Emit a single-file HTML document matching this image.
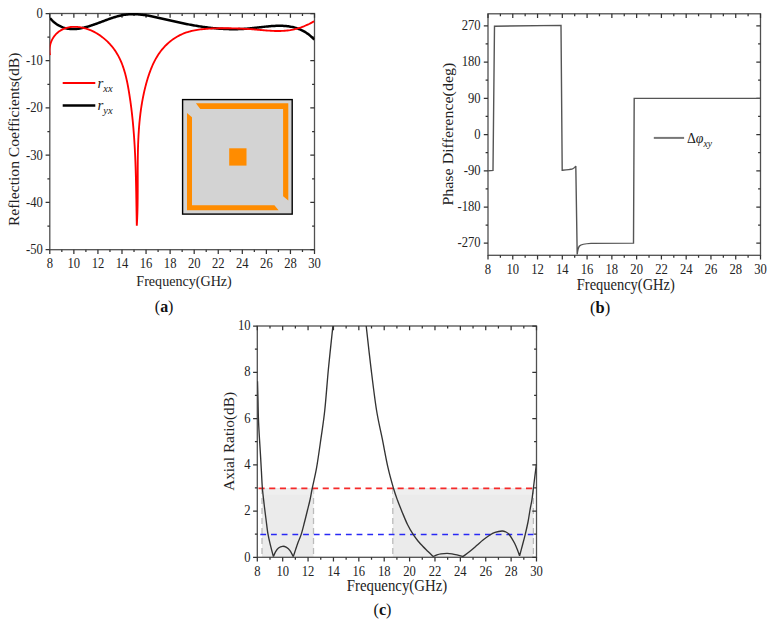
<!DOCTYPE html>
<html><head><meta charset="utf-8"><title>Figure</title>
<style>html,body{margin:0;padding:0;background:#fff;width:773px;height:624px;overflow:hidden;position:relative}
text{font-family:"Liberation Serif",serif}</style></head>
<body>
<svg width="773" height="624" viewBox="0 0 773 624" style="position:absolute;left:0;top:0">
<rect width="773" height="624" fill="#fff"/>
<rect x="49.80" y="13.50" width="264.70" height="236.20" fill="none" stroke="#505050" stroke-width="1.30"/>
<path d="M49.80,249.70v4.20 M49.80,13.50v4.20 M61.83,249.70v2.40 M61.83,13.50v2.40 M73.86,249.70v4.20 M73.86,13.50v4.20 M85.90,249.70v2.40 M85.90,13.50v2.40 M97.93,249.70v4.20 M97.93,13.50v4.20 M109.96,249.70v2.40 M109.96,13.50v2.40 M121.99,249.70v4.20 M121.99,13.50v4.20 M134.02,249.70v2.40 M134.02,13.50v2.40 M146.05,249.70v4.20 M146.05,13.50v4.20 M158.09,249.70v2.40 M158.09,13.50v2.40 M170.12,249.70v4.20 M170.12,13.50v4.20 M182.15,249.70v2.40 M182.15,13.50v2.40 M194.18,249.70v4.20 M194.18,13.50v4.20 M206.21,249.70v2.40 M206.21,13.50v2.40 M218.25,249.70v4.20 M218.25,13.50v4.20 M230.28,249.70v2.40 M230.28,13.50v2.40 M242.31,249.70v4.20 M242.31,13.50v4.20 M254.34,249.70v2.40 M254.34,13.50v2.40 M266.37,249.70v4.20 M266.37,13.50v4.20 M278.40,249.70v2.40 M278.40,13.50v2.40 M290.44,249.70v4.20 M290.44,13.50v4.20 M302.47,249.70v2.40 M302.47,13.50v2.40 M314.50,249.70v4.20 M314.50,13.50v4.20 M49.80,13.50h-4.20 M314.50,13.50h-4.20 M49.80,37.12h-2.40 M314.50,37.12h-2.40 M49.80,60.74h-4.20 M314.50,60.74h-4.20 M49.80,84.36h-2.40 M314.50,84.36h-2.40 M49.80,107.98h-4.20 M314.50,107.98h-4.20 M49.80,131.60h-2.40 M314.50,131.60h-2.40 M49.80,155.22h-4.20 M314.50,155.22h-4.20 M49.80,178.84h-2.40 M314.50,178.84h-2.40 M49.80,202.46h-4.20 M314.50,202.46h-4.20 M49.80,226.08h-2.40 M314.50,226.08h-2.40 M49.80,249.70h-4.20 M314.50,249.70h-4.20" stroke="#333" stroke-width="1.25" fill="none"/>
<g style="font-family:'Liberation Serif',serif;" fill="#222"><text transform="translate(42.80,17.80) scale(0.900,1)" text-anchor="end" style="font-size:14.00px" fill="#222">0</text><text transform="translate(42.80,65.04) scale(0.900,1)" text-anchor="end" style="font-size:14.00px" fill="#222">-10</text><text transform="translate(42.80,112.28) scale(0.900,1)" text-anchor="end" style="font-size:14.00px" fill="#222">-20</text><text transform="translate(42.80,159.52) scale(0.900,1)" text-anchor="end" style="font-size:14.00px" fill="#222">-30</text><text transform="translate(42.80,206.76) scale(0.900,1)" text-anchor="end" style="font-size:14.00px" fill="#222">-40</text><text transform="translate(42.80,254.00) scale(0.900,1)" text-anchor="end" style="font-size:14.00px" fill="#222">-50</text><text transform="translate(49.80,267.80) scale(0.900,1)" text-anchor="middle" style="font-size:14.00px" fill="#222">8</text><text transform="translate(73.86,267.80) scale(0.900,1)" text-anchor="middle" style="font-size:14.00px" fill="#222">10</text><text transform="translate(97.93,267.80) scale(0.900,1)" text-anchor="middle" style="font-size:14.00px" fill="#222">12</text><text transform="translate(121.99,267.80) scale(0.900,1)" text-anchor="middle" style="font-size:14.00px" fill="#222">14</text><text transform="translate(146.05,267.80) scale(0.900,1)" text-anchor="middle" style="font-size:14.00px" fill="#222">16</text><text transform="translate(170.12,267.80) scale(0.900,1)" text-anchor="middle" style="font-size:14.00px" fill="#222">18</text><text transform="translate(194.18,267.80) scale(0.900,1)" text-anchor="middle" style="font-size:14.00px" fill="#222">20</text><text transform="translate(218.25,267.80) scale(0.900,1)" text-anchor="middle" style="font-size:14.00px" fill="#222">22</text><text transform="translate(242.31,267.80) scale(0.900,1)" text-anchor="middle" style="font-size:14.00px" fill="#222">24</text><text transform="translate(266.37,267.80) scale(0.900,1)" text-anchor="middle" style="font-size:14.00px" fill="#222">26</text><text transform="translate(290.44,267.80) scale(0.900,1)" text-anchor="middle" style="font-size:14.00px" fill="#222">28</text><text transform="translate(314.50,267.80) scale(0.900,1)" text-anchor="middle" style="font-size:14.00px" fill="#222">30</text></g>
<text x="136.3" y="285.5" textLength="95.5" lengthAdjust="spacingAndGlyphs" style="font-family:'Liberation Serif',serif;font-size:15.6px" fill="#222">Frequency(GHz)</text>
<text transform="translate(18.9,226.1) rotate(-90)" x="0" y="0" textLength="173.6" lengthAdjust="spacingAndGlyphs" style="font-family:'Liberation Serif',serif;font-size:14.2px" fill="#222">Reflection Coefficients(dB)</text>
<text transform="translate(154.8,312.2) scale(0.93,1)" style="font-family:'Liberation Serif',serif;font-size:17.2px" fill="#111">(<tspan font-weight="bold">a</tspan>)</text>
<rect x="182.6" y="99.6" width="109.6" height="114.5" fill="#d3d3d3" stroke="#000" stroke-width="1.4"/>
<path d="M195.9,103.3 L288.3,103.3 L288.3,200.5 L283.1,196.3 L283.1,108.9 L200.3,108.9 Z" fill="#ff8c00"/>
<path d="M187,112.9 L192,117.3 L192,205.3 L274.4,205.3 L278.6,210.2 L187,210.2 Z" fill="#ff8c00"/>
<rect x="229.2" y="148.3" width="17.3" height="17.3" fill="#ff8c00"/>
<path d="M62.7,83h32.6" stroke="#f00" stroke-width="2.0"/>
<path d="M62.7,105.5h32.6" stroke="#000" stroke-width="2.4"/>
<text x="97.5" y="87.8" style="font-family:'Liberation Serif',serif;font-size:15px;font-style:italic" fill="#222">r<tspan dy="4" style="font-size:10.5px">xx</tspan></text>
<text x="97.5" y="110.3" style="font-family:'Liberation Serif',serif;font-size:15px;font-style:italic" fill="#222">r<tspan dy="4" style="font-size:10.5px">yx</tspan></text>
<defs><clipPath id="ca"><rect x="49.80" y="10.50" width="264.70" height="239.20"/></clipPath></defs>
<g clip-path="url(#ca)" fill="none" stroke-linejoin="round">
<path d="M50.00,18.20 L50.93,19.23 L51.88,20.20 L52.83,21.11 L53.79,21.97 L54.76,22.77 L55.74,23.52 L56.72,24.21 L57.71,24.85 L58.71,25.44 L59.71,25.98 L60.72,26.47 L61.74,26.91 L62.76,27.31 L63.79,27.67 L64.82,27.98 L65.86,28.25 L66.91,28.47 L67.96,28.66 L69.01,28.81 L70.07,28.92 L71.13,29.00 L72.20,29.04 L73.27,29.05 L74.35,29.03 L75.43,28.97 L76.51,28.89 L77.60,28.78 L78.69,28.64 L79.78,28.47 L80.88,28.28 L81.97,28.07 L83.07,27.83 L84.17,27.58 L85.28,27.30 L86.38,27.01 L87.49,26.70 L88.60,26.37 L89.70,26.03 L90.81,25.67 L91.92,25.30 L93.03,24.93 L94.14,24.54 L95.26,24.14 L96.37,23.74 L97.48,23.33 L98.59,22.91 L99.71,22.49 L100.82,22.07 L101.93,21.65 L103.05,21.23 L104.16,20.81 L105.28,20.39 L106.40,19.98 L107.51,19.57 L108.63,19.16 L109.75,18.77 L110.86,18.38 L111.98,18.00 L113.10,17.64 L114.22,17.28 L115.34,16.94 L116.46,16.61 L117.58,16.30 L118.70,16.01 L119.82,15.74 L120.94,15.48 L122.06,15.25 L123.18,15.04 L124.30,14.85 L125.42,14.68 L126.54,14.54 L127.67,14.43 L128.79,14.33 L129.91,14.26 L131.03,14.21 L132.16,14.19 L133.28,14.18 L134.40,14.19 L135.53,14.22 L136.65,14.27 L137.77,14.34 L138.90,14.42 L140.02,14.52 L141.15,14.64 L142.27,14.76 L143.40,14.91 L144.52,15.06 L145.65,15.23 L146.77,15.41 L147.90,15.60 L149.02,15.80 L150.15,16.01 L151.28,16.23 L152.40,16.46 L153.53,16.69 L154.65,16.93 L155.78,17.18 L156.91,17.43 L158.03,17.68 L159.16,17.94 L160.28,18.20 L161.41,18.46 L162.54,18.73 L163.66,18.99 L164.79,19.26 L165.92,19.52 L167.04,19.79 L168.17,20.05 L169.29,20.31 L170.42,20.57 L171.55,20.82 L172.67,21.08 L173.80,21.33 L174.93,21.58 L176.05,21.83 L177.18,22.08 L178.31,22.32 L179.43,22.56 L180.56,22.80 L181.69,23.04 L182.82,23.27 L183.94,23.50 L185.07,23.73 L186.20,23.95 L187.33,24.18 L188.46,24.39 L189.59,24.61 L190.72,24.82 L191.85,25.03 L192.98,25.23 L194.11,25.43 L195.24,25.63 L196.38,25.82 L197.51,26.00 L198.64,26.19 L199.78,26.37 L200.91,26.54 L202.04,26.71 L203.18,26.88 L204.32,27.04 L205.45,27.19 L206.59,27.34 L207.73,27.49 L208.86,27.63 L210.00,27.76 L211.14,27.89 L212.28,28.02 L213.42,28.13 L214.57,28.25 L215.71,28.35 L216.85,28.45 L218.00,28.55 L219.14,28.64 L220.29,28.72 L221.43,28.79 L222.58,28.86 L223.73,28.93 L224.88,28.98 L226.03,29.03 L227.18,29.07 L228.33,29.11 L229.48,29.14 L230.64,29.16 L231.79,29.17 L232.95,29.18 L234.10,29.18 L235.26,29.17 L236.42,29.15 L237.58,29.13 L238.74,29.09 L239.90,29.05 L241.07,29.00 L242.23,28.95 L243.40,28.88 L244.56,28.81 L245.73,28.72 L246.90,28.63 L248.07,28.53 L249.24,28.43 L250.41,28.31 L251.59,28.20 L252.76,28.07 L253.93,27.95 L255.11,27.81 L256.28,27.68 L257.45,27.55 L258.62,27.41 L259.79,27.28 L260.96,27.14 L262.13,27.01 L263.30,26.88 L264.47,26.76 L265.63,26.63 L266.79,26.52 L267.96,26.40 L269.11,26.30 L270.27,26.20 L271.42,26.11 L272.58,26.03 L273.72,25.96 L274.87,25.91 L276.01,25.86 L277.15,25.82 L278.28,25.80 L279.41,25.79 L280.54,25.80 L281.66,25.82 L282.78,25.86 L283.90,25.92 L285.01,25.99 L286.11,26.08 L287.21,26.20 L288.30,26.33 L289.39,26.49 L290.47,26.66 L291.55,26.86 L292.62,27.09 L293.69,27.34 L294.75,27.61 L295.80,27.91 L296.84,28.24 L297.88,28.59 L298.91,28.98 L299.94,29.39 L300.95,29.84 L301.96,30.31 L302.96,30.82 L303.96,31.36 L304.94,31.93 L305.92,32.54 L306.89,33.18 L307.85,33.86 L308.80,34.58 L309.74,35.33 L310.67,36.13 L311.59,36.96 L312.51,37.83 L313.41,38.75 L314.30,39.70" stroke="#000" stroke-width="2.5"/>
<path d="M50.00,55.10 L49.80,53.79 L49.67,52.50 L49.60,51.22 L49.59,49.97 L49.64,48.75 L49.75,47.54 L49.92,46.36 L50.14,45.21 L50.41,44.08 L50.74,42.98 L51.11,41.91 L51.54,40.87 L52.01,39.86 L52.52,38.88 L53.08,37.93 L53.68,37.01 L54.32,36.13 L55.00,35.28 L55.72,34.47 L56.47,33.70 L57.25,32.96 L58.07,32.26 L58.91,31.60 L59.79,30.99 L60.69,30.41 L61.62,29.87 L62.57,29.38 L63.54,28.93 L64.54,28.53 L65.55,28.17 L66.58,27.86 L67.63,27.59 L68.69,27.36 L69.76,27.18 L70.84,27.03 L71.94,26.93 L73.04,26.86 L74.14,26.83 L75.25,26.84 L76.37,26.88 L77.48,26.95 L78.59,27.06 L79.70,27.20 L80.81,27.38 L81.91,27.58 L83.01,27.81 L84.10,28.07 L85.19,28.36 L86.27,28.68 L87.34,29.03 L88.41,29.40 L89.47,29.80 L90.52,30.23 L91.56,30.68 L92.59,31.15 L93.62,31.65 L94.63,32.18 L95.64,32.73 L96.63,33.30 L97.61,33.89 L98.58,34.50 L99.54,35.13 L100.49,35.79 L101.42,36.46 L102.34,37.16 L103.25,37.87 L104.14,38.60 L105.02,39.34 L105.89,40.11 L106.73,40.89 L107.57,41.69 L108.38,42.50 L109.18,43.32 L109.96,44.16 L110.73,45.02 L111.48,45.89 L112.20,46.77 L112.91,47.66 L113.60,48.56 L114.27,49.47 L114.92,50.40 L115.55,51.33 L116.16,52.27 L116.75,53.23 L117.33,54.19 L117.88,55.16 L118.42,56.14 L118.94,57.12 L119.44,58.12 L119.92,59.12 L120.39,60.14 L120.85,61.15 L121.28,62.18 L121.71,63.21 L122.12,64.25 L122.51,65.30 L122.89,66.35 L123.26,67.40 L123.62,68.47 L123.96,69.53 L124.29,70.61 L124.61,71.69 L124.92,72.77 L125.22,73.86 L125.51,74.95 L125.78,76.04 L126.05,77.14 L126.31,78.24 L126.56,79.35 L126.81,80.45 L127.05,81.56 L127.27,82.68 L127.50,83.79 L127.71,84.91 L127.92,86.03 L128.13,87.14 L128.33,88.27 L128.52,89.39 L128.72,90.51 L128.90,91.63 L129.09,92.75 L129.27,93.87 L129.45,95.00 L129.62,96.12 L129.79,97.24 L129.96,98.36 L130.13,99.49 L130.29,100.61 L130.45,101.73 L130.60,102.86 L130.76,103.98 L130.91,105.10 L131.05,106.22 L131.20,107.35 L131.34,108.47 L131.48,109.59 L131.61,110.72 L131.75,111.84 L131.88,112.96 L132.01,114.09 L132.13,115.21 L132.25,116.34 L132.37,117.46 L132.49,118.58 L132.61,119.71 L132.72,120.83 L132.83,121.96 L132.94,123.08 L133.04,124.20 L133.14,125.33 L133.24,126.45 L133.34,127.58 L133.44,128.70 L133.53,129.83 L133.62,130.95 L133.71,132.08 L133.80,133.20 L133.89,134.33 L133.97,135.45 L134.05,136.58 L134.13,137.70 L134.21,138.83 L134.28,139.96 L134.35,141.08 L134.43,142.21 L134.49,143.33 L134.56,144.46 L134.63,145.59 L134.69,146.71 L134.76,147.84 L134.82,148.96 L134.88,150.09 L134.93,151.22 L134.99,152.34 L135.04,153.47 L135.10,154.60 L135.15,155.72 L135.20,156.85 L135.25,157.98 L135.29,159.11 L135.34,160.23 L135.38,161.36 L135.43,162.49 L135.47,163.62 L135.51,164.74 L135.55,165.87 L135.59,167.00 L135.63,168.13 L135.66,169.26 L135.70,170.38 L135.73,171.51 L135.76,172.64 L135.80,173.77 L135.83,174.90 L135.86,176.03 L135.89,177.16 L135.92,178.28 L135.94,179.41 L135.97,180.54 L136.00,181.67 L136.02,182.80 L136.05,183.93 L136.07,185.06 L136.10,186.19 L136.12,187.32 L136.14,188.45 L136.16,189.58 L136.19,190.71 L136.21,191.84 L136.23,192.97 L136.25,194.10 L136.27,195.23 L136.29,196.36 L136.31,197.49 L136.33,198.62 L136.35,199.76 L136.37,200.89 L136.38,202.02 L136.40,203.15 L136.42,204.28 L136.44,205.41 L136.46,206.54 L136.48,207.68 L136.50,208.81 L136.51,209.94 L136.53,211.07 L136.55,212.20 L136.57,213.34 L136.59,214.47 L136.61,215.60 L136.63,216.73 L136.65,217.87 L136.67,219.00 L136.69,220.13 L136.71,221.27 L136.73,222.40 L136.75,223.53 L136.78,224.67 L136.80,225.80 M136.80,225.80 L136.88,224.39 L136.96,222.99 L137.03,221.58 L137.10,220.17 L137.17,218.76 L137.22,217.35 L137.28,215.93 L137.33,214.52 L137.38,213.10 L137.42,211.68 L137.46,210.26 L137.49,208.85 L137.53,207.42 L137.55,206.00 L137.58,204.58 L137.60,203.16 L137.62,201.73 L137.64,200.30 L137.66,198.88 L137.67,197.45 L137.68,196.02 L137.69,194.59 L137.70,193.16 L137.71,191.73 L137.71,190.30 L137.71,188.87 L137.72,187.44 L137.72,186.00 L137.72,184.57 L137.72,183.13 L137.72,181.70 L137.72,180.26 L137.72,178.83 L137.72,177.39 L137.72,175.96 L137.72,174.52 L137.72,173.08 L137.72,171.65 L137.72,170.21 L137.73,168.77 L137.73,167.33 L137.74,165.90 L137.75,164.46 L137.76,163.02 L137.77,161.58 L137.78,160.15 L137.80,158.71 L137.82,157.27 L137.84,155.84 L137.86,154.40 L137.89,152.96 L137.92,151.53 L137.95,150.09 L137.99,148.65 L138.03,147.22 L138.08,145.78 L138.12,144.35 L138.17,142.92 L138.23,141.48 L138.29,140.05 L138.36,138.62 L138.43,137.19 L138.50,135.75 L138.58,134.32 L138.67,132.89 L138.76,131.47 L138.85,130.04 L138.95,128.61 L139.06,127.19 L139.17,125.76 L139.29,124.34 L139.42,122.91 L139.55,121.49 L139.69,120.07 L139.84,118.65 L139.99,117.23 L140.15,115.81 L140.32,114.39 L140.50,112.98 L140.68,111.57 L140.87,110.15 L141.07,108.74 L141.28,107.33 L141.49,105.92 L141.72,104.51 L141.95,103.11 L142.19,101.70 L142.44,100.30 L142.70,98.90 L142.97,97.50 L143.25,96.10 L143.54,94.71 L143.84,93.31 L144.14,91.92 L144.46,90.53 L144.79,89.14 L145.13,87.75 L145.48,86.37 L145.84,84.98 L146.21,83.60 L146.60,82.22 L146.99,80.85 L147.40,79.47 L147.81,78.10 L148.24,76.73 L148.69,75.37 L149.15,74.01 L149.62,72.65 L150.11,71.31 L150.61,69.97 L151.14,68.64 L151.68,67.31 L152.24,66.00 L152.81,64.70 L153.41,63.41 L154.03,62.13 L154.67,60.87 L155.33,59.62 L156.01,58.38 L156.72,57.16 L157.45,55.96 L158.21,54.77 L158.99,53.60 L159.80,52.45 L160.64,51.32 L161.50,50.21 L162.39,49.12 L163.31,48.05 L164.25,47.00 L165.22,45.98 L166.21,44.98 L167.23,44.01 L168.27,43.06 L169.34,42.14 L170.42,41.25 L171.53,40.38 L172.66,39.54 L173.82,38.74 L174.99,37.96 L176.18,37.22 L177.40,36.50 L178.63,35.82 L179.88,35.18 L181.14,34.57 L182.43,33.99 L183.73,33.45 L185.04,32.95 L186.37,32.48 L187.72,32.05 L189.08,31.64 L190.45,31.27 L191.83,30.93 L193.22,30.62 L194.62,30.33 L196.04,30.07 L197.45,29.84 L198.88,29.62 L200.31,29.43 L201.75,29.26 L203.19,29.11 L204.63,28.97 L206.08,28.85 L207.52,28.75 L208.97,28.66 L210.42,28.58 L211.88,28.51 L213.33,28.45 L214.78,28.40 L216.23,28.36 L217.68,28.32 L219.12,28.29 L220.57,28.27 L222.02,28.25 L223.46,28.24 L224.91,28.24 L226.35,28.24 L227.80,28.25 L229.24,28.26 L230.68,28.28 L232.12,28.31 L233.56,28.34 L235.00,28.38 L236.44,28.43 L237.87,28.48 L239.31,28.53 L240.75,28.59 L242.18,28.66 L243.61,28.73 L245.05,28.81 L246.48,28.89 L247.91,28.98 L249.34,29.07 L250.77,29.17 L252.20,29.27 L253.63,29.38 L255.06,29.49 L256.48,29.61 L257.91,29.73 L259.33,29.86 L260.76,29.98 L262.18,30.11 L263.60,30.23 L265.02,30.35 L266.44,30.46 L267.85,30.57 L269.27,30.67 L270.68,30.76 L272.09,30.84 L273.50,30.90 L274.91,30.96 L276.32,30.99 L277.72,31.01 L279.12,31.01 L280.52,30.99 L281.91,30.94 L283.30,30.87 L284.69,30.78 L286.08,30.66 L287.46,30.51 L288.84,30.33 L290.22,30.12 L291.59,29.88 L292.96,29.61 L294.33,29.30 L295.69,28.96 L297.05,28.60 L298.40,28.20 L299.75,27.77 L301.10,27.31 L302.44,26.82 L303.78,26.31 L305.11,25.76 L306.44,25.19 L307.76,24.59 L309.08,23.97 L310.39,23.31 L311.70,22.63 L313.00,21.93 L314.30,21.20" stroke="#f00" stroke-width="1.85"/>
</g>
<rect x="488.00" y="13.80" width="272.50" height="241.50" fill="none" stroke="#505050" stroke-width="1.30"/>
<path d="M488.00,255.30v4.20 M488.00,13.80v4.20 M500.39,255.30v2.40 M500.39,13.80v2.40 M512.77,255.30v4.20 M512.77,13.80v4.20 M525.16,255.30v2.40 M525.16,13.80v2.40 M537.55,255.30v4.20 M537.55,13.80v4.20 M549.93,255.30v2.40 M549.93,13.80v2.40 M562.32,255.30v4.20 M562.32,13.80v4.20 M574.70,255.30v2.40 M574.70,13.80v2.40 M587.09,255.30v4.20 M587.09,13.80v4.20 M599.48,255.30v2.40 M599.48,13.80v2.40 M611.86,255.30v4.20 M611.86,13.80v4.20 M624.25,255.30v2.40 M624.25,13.80v2.40 M636.64,255.30v4.20 M636.64,13.80v4.20 M649.02,255.30v2.40 M649.02,13.80v2.40 M661.41,255.30v4.20 M661.41,13.80v4.20 M673.80,255.30v2.40 M673.80,13.80v2.40 M686.18,255.30v4.20 M686.18,13.80v4.20 M698.57,255.30v2.40 M698.57,13.80v2.40 M710.95,255.30v4.20 M710.95,13.80v4.20 M723.34,255.30v2.40 M723.34,13.80v2.40 M735.73,255.30v4.20 M735.73,13.80v4.20 M748.11,255.30v2.40 M748.11,13.80v2.40 M760.50,255.30v4.20 M760.50,13.80v4.20 M488.00,243.23h-4.20 M760.50,243.23h-4.20 M488.00,225.11h-2.40 M760.50,225.11h-2.40 M488.00,207.00h-4.20 M760.50,207.00h-4.20 M488.00,188.89h-2.40 M760.50,188.89h-2.40 M488.00,170.78h-4.20 M760.50,170.78h-4.20 M488.00,152.66h-2.40 M760.50,152.66h-2.40 M488.00,134.55h-4.20 M760.50,134.55h-4.20 M488.00,116.44h-2.40 M760.50,116.44h-2.40 M488.00,98.33h-4.20 M760.50,98.33h-4.20 M488.00,80.21h-2.40 M760.50,80.21h-2.40 M488.00,62.10h-4.20 M760.50,62.10h-4.20 M488.00,43.99h-2.40 M760.50,43.99h-2.40 M488.00,25.88h-4.20 M760.50,25.88h-4.20" stroke="#333" stroke-width="1.25" fill="none"/>
<g style="font-family:'Liberation Serif',serif;" fill="#222"><text transform="translate(480.60,30.07) scale(0.900,1)" text-anchor="end" style="font-size:14.00px" fill="#222">270</text><text transform="translate(480.60,66.30) scale(0.900,1)" text-anchor="end" style="font-size:14.00px" fill="#222">180</text><text transform="translate(480.60,102.53) scale(0.900,1)" text-anchor="end" style="font-size:14.00px" fill="#222">90</text><text transform="translate(480.60,138.75) scale(0.900,1)" text-anchor="end" style="font-size:14.00px" fill="#222">0</text><text transform="translate(480.60,174.97) scale(0.900,1)" text-anchor="end" style="font-size:14.00px" fill="#222">-90</text><text transform="translate(480.60,211.20) scale(0.900,1)" text-anchor="end" style="font-size:14.00px" fill="#222">-180</text><text transform="translate(480.60,247.43) scale(0.900,1)" text-anchor="end" style="font-size:14.00px" fill="#222">-270</text><text transform="translate(488.00,273.70) scale(0.900,1)" text-anchor="middle" style="font-size:14.00px" fill="#222">8</text><text transform="translate(512.77,273.70) scale(0.900,1)" text-anchor="middle" style="font-size:14.00px" fill="#222">10</text><text transform="translate(537.55,273.70) scale(0.900,1)" text-anchor="middle" style="font-size:14.00px" fill="#222">12</text><text transform="translate(562.32,273.70) scale(0.900,1)" text-anchor="middle" style="font-size:14.00px" fill="#222">14</text><text transform="translate(587.09,273.70) scale(0.900,1)" text-anchor="middle" style="font-size:14.00px" fill="#222">16</text><text transform="translate(611.86,273.70) scale(0.900,1)" text-anchor="middle" style="font-size:14.00px" fill="#222">18</text><text transform="translate(636.64,273.70) scale(0.900,1)" text-anchor="middle" style="font-size:14.00px" fill="#222">20</text><text transform="translate(661.41,273.70) scale(0.900,1)" text-anchor="middle" style="font-size:14.00px" fill="#222">22</text><text transform="translate(686.18,273.70) scale(0.900,1)" text-anchor="middle" style="font-size:14.00px" fill="#222">24</text><text transform="translate(710.95,273.70) scale(0.900,1)" text-anchor="middle" style="font-size:14.00px" fill="#222">26</text><text transform="translate(735.73,273.70) scale(0.900,1)" text-anchor="middle" style="font-size:14.00px" fill="#222">28</text><text transform="translate(760.50,273.70) scale(0.900,1)" text-anchor="middle" style="font-size:14.00px" fill="#222">30</text></g>
<text x="576.8" y="289.7" textLength="98.0" lengthAdjust="spacingAndGlyphs" style="font-family:'Liberation Serif',serif;font-size:15.8px" fill="#222">Frequency(GHz)</text>
<text transform="translate(452.6,205.6) rotate(-90)" textLength="142.9" lengthAdjust="spacingAndGlyphs" style="font-family:'Liberation Serif',serif;font-size:14.0px" fill="#222">Phase Difference(deg)</text>
<text transform="translate(590,312.8) scale(0.96,1)" style="font-family:'Liberation Serif',serif;font-size:17.2px" fill="#111">(<tspan font-weight="bold">b</tspan>)</text>
<path d="M488,170.8 L493,170.4 L494.5,26.2 L561,25.4 L562.2,170.2 C566,169.9 570,169.6 572.5,168.8 C574.5,168 575.3,167 575.8,166 L577.2,254.5 C577.6,250 578.2,247.5 579.5,246 C581,244.5 584,243.8 591,243.4 L633.5,243.1 L634.2,98.4 L760.5,98.4" stroke="#555" stroke-width="1.4" fill="none" stroke-linejoin="miter"/>
<path d="M653.8,137.9h30.3" stroke="#777" stroke-width="2"/>
<text transform="translate(687.0,142.6) scale(0.92,1)" style="font-family:'Liberation Serif',serif;font-size:15px" fill="#222">&#916;<tspan style="font-style:italic">&#966;</tspan><tspan dy="4.8" style="font-size:10.5px;font-style:italic">xy</tspan></text>
<path d="M262,487.91 H313.5 V557.30 H262 Z M392.8,487.91 H533.4 V557.30 H392.8 Z" fill="#ebebeb"/>
<path d="M262,487.91 V557.30 M313.5,487.91 V557.30 M392.8,487.91 V557.30 M533.4,487.91 V557.30" stroke="#bbb" stroke-width="1.3" stroke-dasharray="6,4" fill="none"/>
<path d="M262,489.2 H313.5 V494.8 H262 Z M392.8,489.2 H533.4 V494.8 H392.8 Z" fill="#efefef"/>
<path d="M258.5,488.4 H536" stroke="#f52a2a" stroke-width="1.7" stroke-dasharray="6.1,4.6" fill="none"/>
<path d="M260.3,534.6 H534" stroke="#2828f5" stroke-width="1.5" stroke-dasharray="5.8,4.9" fill="none"/>
<rect x="257.30" y="326.00" width="279.20" height="231.30" fill="none" stroke="#505050" stroke-width="1.30"/>
<path d="M257.30,557.30v4.20 M257.30,326.00v4.20 M269.99,557.30v2.40 M269.99,326.00v2.40 M282.68,557.30v4.20 M282.68,326.00v4.20 M295.37,557.30v2.40 M295.37,326.00v2.40 M308.06,557.30v4.20 M308.06,326.00v4.20 M320.75,557.30v2.40 M320.75,326.00v2.40 M333.45,557.30v4.20 M333.45,326.00v4.20 M346.14,557.30v2.40 M346.14,326.00v2.40 M358.83,557.30v4.20 M358.83,326.00v4.20 M371.52,557.30v2.40 M371.52,326.00v2.40 M384.21,557.30v4.20 M384.21,326.00v4.20 M396.90,557.30v2.40 M396.90,326.00v2.40 M409.59,557.30v4.20 M409.59,326.00v4.20 M422.28,557.30v2.40 M422.28,326.00v2.40 M434.97,557.30v4.20 M434.97,326.00v4.20 M447.66,557.30v2.40 M447.66,326.00v2.40 M460.35,557.30v4.20 M460.35,326.00v4.20 M473.05,557.30v2.40 M473.05,326.00v2.40 M485.74,557.30v4.20 M485.74,326.00v4.20 M498.43,557.30v2.40 M498.43,326.00v2.40 M511.12,557.30v4.20 M511.12,326.00v4.20 M523.81,557.30v2.40 M523.81,326.00v2.40 M536.50,557.30v4.20 M536.50,326.00v4.20 M257.30,557.30h-4.20 M536.50,557.30h-4.20 M257.30,534.17h-2.40 M536.50,534.17h-2.40 M257.30,511.04h-4.20 M536.50,511.04h-4.20 M257.30,487.91h-2.40 M536.50,487.91h-2.40 M257.30,464.78h-4.20 M536.50,464.78h-4.20 M257.30,441.65h-2.40 M536.50,441.65h-2.40 M257.30,418.52h-4.20 M536.50,418.52h-4.20 M257.30,395.39h-2.40 M536.50,395.39h-2.40 M257.30,372.26h-4.20 M536.50,372.26h-4.20 M257.30,349.13h-2.40 M536.50,349.13h-2.40 M257.30,326.00h-4.20 M536.50,326.00h-4.20" stroke="#333" stroke-width="1.25" fill="none"/>
<g style="font-family:'Liberation Serif',serif;" fill="#222"><text transform="translate(250.50,561.50) scale(0.900,1)" text-anchor="end" style="font-size:14.00px" fill="#222">0</text><text transform="translate(250.50,515.24) scale(0.900,1)" text-anchor="end" style="font-size:14.00px" fill="#222">2</text><text transform="translate(250.50,468.98) scale(0.900,1)" text-anchor="end" style="font-size:14.00px" fill="#222">4</text><text transform="translate(250.50,422.72) scale(0.900,1)" text-anchor="end" style="font-size:14.00px" fill="#222">6</text><text transform="translate(250.50,376.46) scale(0.900,1)" text-anchor="end" style="font-size:14.00px" fill="#222">8</text><text transform="translate(250.50,330.20) scale(0.900,1)" text-anchor="end" style="font-size:14.00px" fill="#222">10</text><text transform="translate(257.30,575.60) scale(0.900,1)" text-anchor="middle" style="font-size:14.00px" fill="#222">8</text><text transform="translate(282.68,575.60) scale(0.900,1)" text-anchor="middle" style="font-size:14.00px" fill="#222">10</text><text transform="translate(308.06,575.60) scale(0.900,1)" text-anchor="middle" style="font-size:14.00px" fill="#222">12</text><text transform="translate(333.45,575.60) scale(0.900,1)" text-anchor="middle" style="font-size:14.00px" fill="#222">14</text><text transform="translate(358.83,575.60) scale(0.900,1)" text-anchor="middle" style="font-size:14.00px" fill="#222">16</text><text transform="translate(384.21,575.60) scale(0.900,1)" text-anchor="middle" style="font-size:14.00px" fill="#222">18</text><text transform="translate(409.59,575.60) scale(0.900,1)" text-anchor="middle" style="font-size:14.00px" fill="#222">20</text><text transform="translate(434.97,575.60) scale(0.900,1)" text-anchor="middle" style="font-size:14.00px" fill="#222">22</text><text transform="translate(460.35,575.60) scale(0.900,1)" text-anchor="middle" style="font-size:14.00px" fill="#222">24</text><text transform="translate(485.74,575.60) scale(0.900,1)" text-anchor="middle" style="font-size:14.00px" fill="#222">26</text><text transform="translate(511.12,575.60) scale(0.900,1)" text-anchor="middle" style="font-size:14.00px" fill="#222">28</text><text transform="translate(536.50,575.60) scale(0.900,1)" text-anchor="middle" style="font-size:14.00px" fill="#222">30</text></g>
<text x="346.8" y="590.9" textLength="100.4" lengthAdjust="spacingAndGlyphs" style="font-family:'Liberation Serif',serif;font-size:15.8px" fill="#222">Frequency(GHz)</text>
<text transform="translate(234.2,490.8) rotate(-90)" textLength="98.8" lengthAdjust="spacingAndGlyphs" style="font-family:'Liberation Serif',serif;font-size:14.0px" fill="#222">Axial Ratio(dB)</text>
<text transform="translate(373.5,615.2) scale(0.93,1)" style="font-family:'Liberation Serif',serif;font-size:17.4px" fill="#111">(<tspan font-weight="bold">c</tspan>)</text>
<defs><clipPath id="cc"><rect x="257.30" y="326.00" width="279.20" height="232.30"/></clipPath></defs>
<path clip-path="url(#cc)" d="M257.50,381.20 C257.58,384.33 257.85,393.87 258.00,400.00 C258.15,406.13 258.18,412.00 258.40,418.00 C258.62,424.00 258.97,430.07 259.30,436.00 C259.63,441.93 260.05,447.77 260.40,453.60 C260.75,459.43 261.08,465.40 261.40,471.00 C261.72,476.60 261.85,481.70 262.30,487.20 C262.75,492.70 263.47,498.53 264.10,504.00 C264.73,509.47 265.45,514.97 266.10,520.00 C266.75,525.03 267.25,529.88 268.00,534.20 C268.75,538.52 269.70,542.17 270.60,545.90 C271.50,549.63 272.93,554.82 273.40,556.60 M273.40,556.60 C273.75,555.80 274.65,553.23 275.50,551.80 C276.35,550.37 277.32,548.92 278.50,548.00 C279.68,547.08 281.27,546.40 282.60,546.30 C283.93,546.20 285.27,546.68 286.50,547.40 C287.73,548.12 288.87,549.07 290.00,550.60 C291.13,552.13 292.75,555.60 293.30,556.60 M293.30,556.60 C293.68,555.43 294.78,552.03 295.60,549.60 C296.42,547.17 297.27,544.53 298.20,542.00 C299.13,539.47 300.17,537.65 301.20,534.40 C302.23,531.15 303.37,526.48 304.40,522.50 C305.43,518.52 306.45,514.33 307.40,510.50 C308.35,506.67 309.28,503.25 310.10,499.50 C310.92,495.75 311.22,493.30 312.30,488.00 C313.38,482.70 315.17,475.88 316.60,467.70 C318.03,459.52 319.53,448.52 320.90,438.90 C322.27,429.28 323.53,421.82 324.80,410.00 C326.07,398.18 327.15,382.00 328.50,368.00 C329.85,354.00 331.98,334.83 332.90,326.00 C333.82,317.17 333.82,316.83 334.00,315.00 M365.00,315.00 C365.20,316.83 365.20,317.15 366.20,326.00 C367.20,334.85 369.28,354.10 371.00,368.10 C372.72,382.10 374.62,398.20 376.50,410.00 C378.38,421.80 380.38,429.28 382.30,438.90 C384.22,448.52 386.15,459.52 388.00,467.70 C389.85,475.88 391.83,482.62 393.40,488.00 C394.97,493.38 395.92,495.93 397.40,500.00 C398.88,504.07 400.62,508.32 402.30,512.40 C403.98,516.48 405.72,520.87 407.50,524.50 C409.28,528.13 411.25,531.45 413.00,534.20 C414.75,536.95 416.42,539.03 418.00,541.00 C419.58,542.97 420.83,544.25 422.50,546.00 C424.17,547.75 426.22,549.73 428.00,551.50 C429.78,553.27 432.33,555.75 433.20,556.60 M433.20,556.60 C433.83,556.30 435.70,555.27 437.00,554.80 C438.30,554.33 439.32,554.03 441.00,553.80 C442.68,553.57 445.27,553.40 447.10,553.40 C448.93,553.40 450.35,553.55 452.00,553.80 C453.65,554.05 455.17,554.43 457.00,554.90 C458.83,555.37 462.00,556.32 463.00,556.60 M463.00,556.60 C464.17,555.70 467.73,553.03 470.00,551.20 C472.27,549.37 474.43,547.47 476.60,545.60 C478.77,543.73 480.83,541.73 483.00,540.00 C485.17,538.27 487.60,536.47 489.60,535.20 C491.60,533.93 492.92,533.10 495.00,532.40 C497.08,531.70 500.27,531.07 502.10,531.00 C503.93,530.93 504.88,531.50 506.00,532.00 C507.12,532.50 507.88,533.03 508.80,534.00 C509.72,534.97 510.53,536.25 511.50,537.80 C512.47,539.35 513.63,541.35 514.60,543.30 C515.57,545.25 516.47,547.42 517.30,549.50 C518.13,551.58 519.22,554.75 519.60,555.80 M519.60,555.80 C520.08,554.00 521.57,548.53 522.50,545.00 C523.43,541.47 524.28,538.43 525.20,534.60 C526.12,530.77 527.20,526.10 528.00,522.00 C528.80,517.90 529.35,513.67 530.00,510.00 C530.65,506.33 531.33,503.67 531.90,500.00 C532.47,496.33 532.90,492.00 533.40,488.00 C533.90,484.00 534.40,479.93 534.90,476.00 C535.40,472.07 536.15,466.33 536.40,464.40" stroke="#333" stroke-width="1.35" fill="none" stroke-linejoin="round"/>
</svg>
</body></html>
